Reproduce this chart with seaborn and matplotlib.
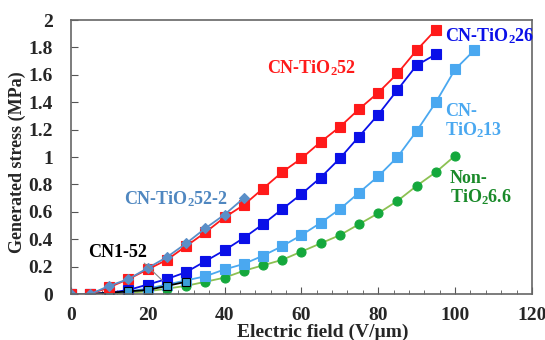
import numpy as np
import pandas as pd
import matplotlib
matplotlib.use("Agg")
import matplotlib.pyplot as plt
import seaborn as sns
from matplotlib.ticker import MultipleLocator

sns.set_style("ticks")
plt.rcParams['font.family'] = ['Liberation Serif', 'DejaVu Serif']
plt.rcParams['font.weight'] = 'bold'
plt.rcParams['mathtext.fontset'] = 'custom'
plt.rcParams['mathtext.rm'] = 'Liberation Serif:bold'
plt.rcParams['mathtext.it'] = 'Liberation Serif:bold'
plt.rcParams['mathtext.bf'] = 'Liberation Serif:bold'

# Electric field (V/um) and generated stress (MPa)
field_52 = [0, 5, 10, 15, 20, 25, 30, 35, 40, 45, 50, 55, 60, 65, 70, 75, 80, 85, 90, 95]
stress_52 = [0, 0, 0.05, 0.11, 0.18, 0.25, 0.35, 0.45, 0.56, 0.65, 0.77, 0.89, 0.99,
             1.11, 1.22, 1.35, 1.47, 1.61, 1.78, 1.93]

field_26 = [0, 5, 10, 15, 20, 25, 30, 35, 40, 45, 50, 55, 60, 65, 70, 75, 80, 85, 90, 95]
stress_26 = [0, 0, 0.01, 0.03, 0.07, 0.11, 0.16, 0.24, 0.32, 0.41, 0.51, 0.62, 0.73,
             0.85, 0.99, 1.15, 1.31, 1.49, 1.67, 1.75]

field_13 = [0, 5, 10, 15, 20, 25, 30, 35, 40, 45, 50, 55, 60, 65, 70, 75, 80, 85, 90,
            95, 100, 105]
stress_13 = [0, 0, 0.01, 0.02, 0.04, 0.07, 0.10, 0.13, 0.18, 0.22, 0.28, 0.35, 0.43,
             0.52, 0.62, 0.74, 0.86, 1.00, 1.19, 1.40, 1.64, 1.78]

field_non = [0, 5, 10, 15, 20, 25, 30, 35, 40, 45, 50, 55, 60, 65, 70, 75, 80, 85, 90,
             95, 100]
stress_non = [0, 0, 0, 0.01, 0.02, 0.04, 0.06, 0.09, 0.12, 0.17, 0.21, 0.25, 0.31,
              0.37, 0.43, 0.51, 0.59, 0.68, 0.79, 0.89, 1.01]

field_52_2 = [0, 5, 10, 15, 20, 25, 30, 35, 40, 45]
stress_52_2 = [0, 0, 0.06, 0.11, 0.19, 0.27, 0.37, 0.48, 0.58, 0.70]

field_cn1 = [0, 5, 10, 15, 20, 25, 30]
stress_cn1 = [0, 0, 0.01, 0.02, 0.03, 0.06, 0.09]

x_ticks = [0, 20, 40, 60, 80, 100, 120]
y_ticks = [0, 0.2, 0.4, 0.6, 0.8, 1.0, 1.2, 1.4, 1.6, 1.8, 2.0]
y_tick_labels = ['0', '0.2', '0.4', '0.6', '0.8', '1', '1.2', '1.4', '1.6', '1.8', '2']

fig = plt.figure(figsize=(5.45, 3.4), dpi=100)
ax = fig.add_axes([0.130, 0.135, 0.846, 0.806])

series = [
    (field_non, stress_non, '#8cc152', 'o', '#14a83c', '#14a83c', 6.5),
    (field_13, stress_13, '#4aa8f0', 's', '#4aa8f0', '#4aa8f0', 7),
    (field_26, stress_26, '#0a10e8', 's', '#0a10e8', '#0a10e8', 7),
    (field_cn1, stress_cn1, 'black', 's', '#3a9fd8', 'black', 6),
    (field_52, stress_52, '#ff1a1a', 's', '#ff1a1a', '#ff1a1a', 7),
    (field_52_2, stress_52_2, '#5a8fc8', 'D', '#5a8fc8', '#5a8fc8', 5),
]
for x, y, lc, mk, fc, ec, ms in series:
    df = pd.DataFrame({'x': x, 'y': y})
    sns.lineplot(data=df, x='x', y='y', ax=ax, color=lc, lw=1.3, marker=mk,
                 markersize=ms, markerfacecolor=fc, markeredgecolor=ec,
                 markeredgewidth=0.8)

ax.set_xlim(0, 120)
ax.set_ylim(0, 2)
ax.set_xticks(x_ticks, [str(v) for v in x_ticks], fontsize=14, fontweight='bold')
ax.set_yticks(y_ticks, y_tick_labels, fontsize=14, fontweight='bold')
ax.xaxis.set_minor_locator(MultipleLocator(4))
ax.tick_params(axis='x', which='major', direction='in', length=5, color='#555555', pad=9)
ax.tick_params(axis='y', which='major', direction='in', length=5, color='#555555', pad=13)
ax.tick_params(axis='x', which='minor', direction='in', length=3, color='#555555')
for s in ax.spines.values():
    s.set_color('#666666')
    s.set_linewidth(1.2)

ax.set_xlabel('Electric field (V/\u00b5m)', fontsize=14, fontweight='bold')
ax.xaxis.set_label_coords(0.547, -0.108)
ax.set_ylabel('Generated stress (MPa)', fontsize=13, fontweight='bold')
ax.yaxis.set_label_coords(-0.097, 0.48)

ax.text(51, 1.65, r'CN-TiO$_2$52', color='#ff1a1a', fontsize=13, fontweight='bold',
        va='center')
ax.text(97.3, 1.88, r'CN-TiO$_2$26', color='#0a10e8', fontsize=13, fontweight='bold',
        va='center')
ax.text(97.3, 1.26, 'CN-\n' + r'TiO$_2$13', color='#4aa8f0', fontsize=13,
        fontweight='bold', va='center', linespacing=1.0)
ax.text(98.6, 0.77, 'Non-\n' + r'TiO$_2$6.6', color='#1a8a2a', fontsize=13,
        fontweight='bold', va='center', linespacing=1.0)
ax.text(13.9, 0.69, r'CN-TiO$_2$52-2', color='#4f87c0', fontsize=13,
        fontweight='bold', va='center')
ax.text(4.5, 0.30, 'CN1-52', color='black', fontsize=13, fontweight='bold',
        va='center')
ax.plot([19.1, 23.8], [0.226, 0.10], color='#888888', lw=0.8)

fig.savefig('out.png', dpi=100)
